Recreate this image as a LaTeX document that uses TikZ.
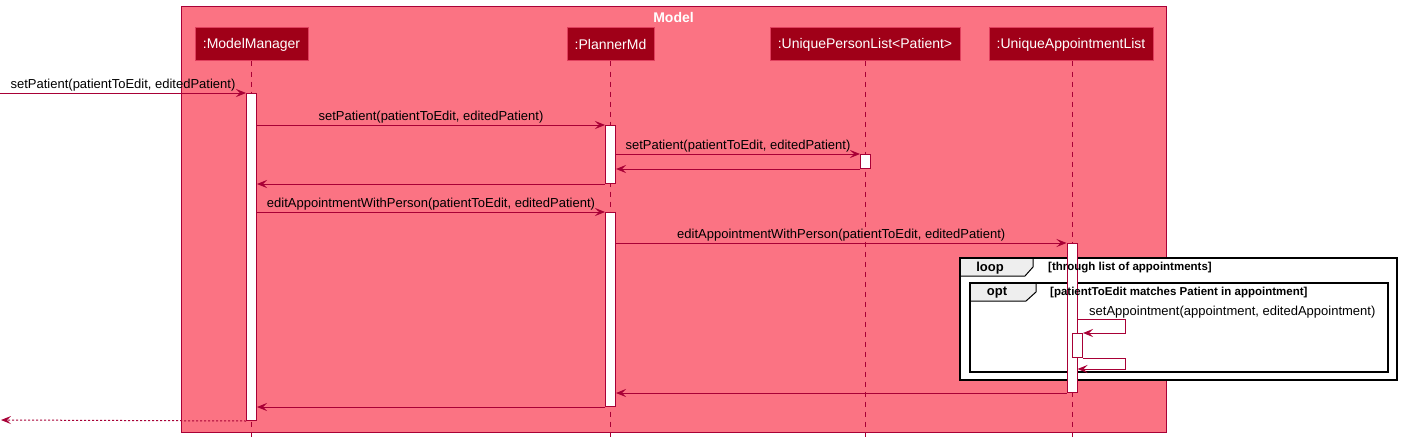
\documentclass[tikz,border=0pt]{standalone}
\usepackage{fontspec}
\setmainfont{Liberation Sans}
\usetikzlibrary{arrows.meta,calc}
\definecolor{pframe}{HTML}{FB7383}
\definecolor{pline}{HTML}{A80036}
\definecolor{pbox}{HTML}{A00018}
\definecolor{pboxborder}{HTML}{E0405E}
\definecolor{tabgray}{HTML}{EEEEEE}
\tikzset{
  participant/.style={draw=pboxborder, fill=pbox, text=white, font=\fontsize{14}{16}\selectfont, minimum height=33pt, inner sep=0pt, line width=1pt},
  lifeline/.style={draw=pline, dash pattern=on 5pt off 5pt, line width=0.8pt},
  actbar/.style={draw=pline, fill=white, minimum width=10pt, inner sep=0pt, anchor=north, line width=1pt},
  msg/.style={draw=pline, line width=1pt, -{Stealth[length=10pt,width=8pt,inset=4pt]}},
  msgdotted/.style={msg, dash pattern=on 2pt off 2pt},
  msglabel/.style={font=\fontsize{13}{15}\selectfont, inner sep=1pt, anchor=south, text=black},
  grpframe/.style={draw=black, line width=2pt, fill=white},
  grptabline/.style={draw=black, line width=1pt},
  grpname/.style={font=\bfseries\fontsize{13}{15}\selectfont, inner sep=0pt},
  grpcond/.style={font=\bfseries\fontsize{11.5}{13}\selectfont, anchor=west, inner sep=0pt},
}
\begin{document}
\begin{tikzpicture}[x=1pt,y=-1pt]
\useasboundingbox (0,0) rectangle (1402,444);
% Model frame
\node[draw=pline, fill=pframe, line width=1pt, minimum width=985pt, minimum height=426pt, inner sep=0pt, anchor=north west] (modelframe) at (181,6) {};
\node[font=\bfseries\fontsize{14}{16}\selectfont, text=white, inner sep=0pt] (modeltitle) at (673.5,17) {Model};
% participants
\node[participant, minimum width=113pt] (pMM) at (251.5,44.5) {:ModelManager};
\node[participant, minimum width=87pt] (pPM) at (610.5,44.5) {:PlannerMd};
\node[participant, minimum width=190pt] (pUPL) at (865,44.5) {:UniquePersonList<Patient>};
\node[participant, minimum width=164pt] (pUAL) at (1071,44.5) {:UniqueAppointmentList};
% lifelines
\coordinate (llMM) at (251.5,438);
\coordinate (llPM) at (610.5,438);
\coordinate (llUPL) at (865.5,438);
\coordinate (llUAL) at (1072,438);
\draw[lifeline] (pMM.south -| llMM) -- (llMM);
\draw[lifeline] (pPM.south -| llPM) -- (llPM);
\draw[lifeline] (pUPL.south -| llUPL) -- (llUPL);
\draw[lifeline] (pUAL.south -| llUAL) -- (llUAL);
% loop frame
\draw[grpframe] (960,258) rectangle (1397,380);
\fill[tabgray] (961,259) -- (1033,259) -- (1033,267) -- (1025,276) -- (961,276) -- cycle;
\draw[grptabline] (1033,258) -- (1033,267) -- (1025,276) -- (961,276);
\node[grpname] (loopname) at (990,268) {loop};
% opt frame
\draw[grpframe] (970,283) rectangle (1388,372);
\fill[tabgray] (971,284) -- (1036,284) -- (1036,292) -- (1026,301) -- (971,301) -- cycle;
\draw[grptabline] (1036,283) -- (1036,292) -- (1026,301) -- (971,301);
\node[grpname] (optname) at (997,293) {opt};
% activation bars
\node[actbar, minimum height=327pt] (aMM) at (251.5,93) {};
\node[actbar, minimum height=58pt] (aPM1) at (610.5,125) {};
\node[actbar, minimum height=14pt] (aUPL) at (865.5,154) {};
\node[actbar, minimum height=194pt] (aPM2) at (610.5,212) {};
\node[actbar, minimum height=149pt] (aUAL) at (1072,243) {};
\node[actbar, minimum height=24pt] (aUAL2) at (1077.5,333) {};
% group conditions (drawn over the activation bar)
\node[grpcond] (loopcond) at (1048,268) {[through list of appointments]};
\node[grpcond] (optcond) at (1050,293) {[patientToEdit matches Patient in appointment]};
% messages
\coordinate (start1) at (0,93);
\draw[msg] (start1) -- node[msglabel] (l1) {setPatient(patientToEdit, editedPatient)} (aMM.north west);
\draw[msg] (aPM1.north west -| aMM.east) -- node[msglabel] (l2) {setPatient(patientToEdit, editedPatient)} (aPM1.north west);
\draw[msg] (aUPL.north west -| aPM1.east) -- node[msglabel] (l3) {setPatient(patientToEdit, editedPatient)} (aUPL.north west);
\draw[msg] (aUPL.south west) -- (aUPL.south west -| aPM1.east);
\draw[msg] (aPM1.south west) -- (aPM1.south west -| aMM.east);
\draw[msg] (aPM2.north west -| aMM.east) -- node[msglabel] (l6) {editAppointmentWithPerson(patientToEdit, editedPatient)} (aPM2.north west);
\draw[msg] (aUAL.north west -| aPM2.east) -- node[msglabel] (l7) {editAppointmentWithPerson(patientToEdit, editedPatient)} (aUAL.north west);
% self messages
\node[font=\fontsize{13}{15}\selectfont, inner sep=0pt, anchor=base west] (lself) at (1089,315) {setAppointment(appointment, editedAppointment)};
\coordinate (s1y) at (1125,319);
\draw[msg] (s1y -| aUAL.east) -- (s1y) -- (s1y |- aUAL2.north) -- (aUAL2.north east);
\coordinate (s2x) at (1125,369);
\draw[msg] (aUAL2.south east) -- (aUAL2.south east -| s2x) -- (s2x) -- (s2x -| aUAL.east);
% returns
\draw[msg] (aUAL.south west) -- (aUAL.south west -| aPM2.east);
\draw[msg] (aPM2.south west) -- (aPM2.south west -| aMM.east);
\coordinate (end10) at (1,420);
\draw[msgdotted] (aMM.south west) -- (end10);
\end{tikzpicture}
\end{document}
